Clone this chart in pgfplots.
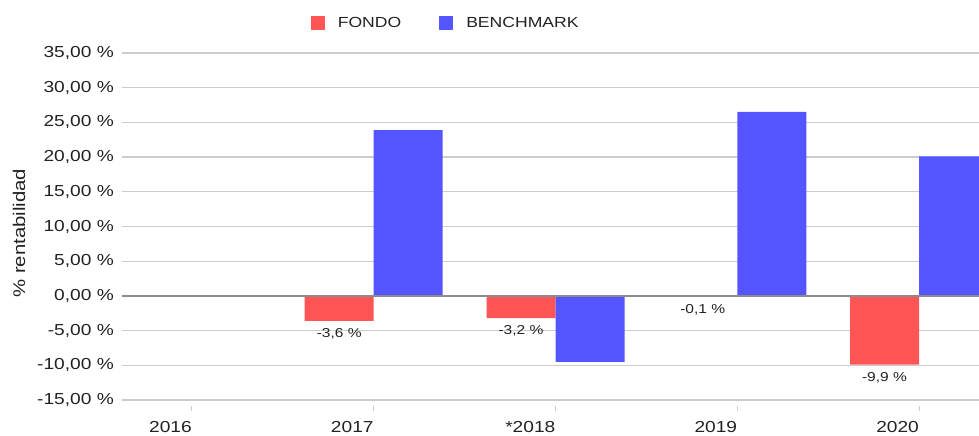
\documentclass[border=0pt]{standalone}
\usepackage{fontspec}
\setmainfont{Liberation Sans}[FakeStretch=1.2]
\usepackage{pgfplots}
\pgfplotsset{compat=1.18}
\definecolor{fondo}{RGB}{255,85,85}
\definecolor{bench}{RGB}{85,85,255}
\definecolor{txt}{RGB}{34,34,34}
\definecolor{gridc}{RGB}{204,204,204}
\definecolor{zeroc}{RGB}{140,140,140}
\begin{document}
\begin{tikzpicture}
\useasboundingbox (-122bp,-36bp) rectangle (857bp,400bp);
\begin{axis}[
  at={(0,0)}, anchor=south west,
  scale only axis, width=857bp, height=347bp,
  xmin=-0.385, xmax=4.33, ymin=-15, ymax=35,
  ybar=0pt, bar width=69bp,
  axis line style={draw=none},
  /pgf/number format/assume math mode=true,
  xtick={0,...,4}, xticklabels={2016,2017,*2018,2019,2020},
  ytick={-15,-10,...,35},
  yticklabel={\pgfmathprintnumber[fixed,fixed zerofill,precision=2,use comma]{\tick}~\%},
  ymajorgrids, grid style={draw=gridc, line width=1.3bp},
  tick align=outside, major tick length=5bp,
  xtick pos=lower,
  xtick style={draw=gridc, line width=1bp, yshift=-6bp},
  ytick style={draw=none},
  xticklabel style={anchor=north east, inner xsep=0pt, inner ysep=0pt, yshift=-16bp, text=txt, font=\fontsize{16}{19}\selectfont},
  yticklabel style={anchor=east, inner xsep=0pt, xshift=-3bp, text=txt, font=\fontsize{16}{19}\selectfont},
  ylabel={\% rentabilidad},
  ylabel style={at={(axis description cs:-0.1202,0.481)}, anchor=center, text=txt, font=\fontsize{17}{20}\selectfont},
  legend style={at={(axis description cs:0.3777,1.0865)}, anchor=center, draw=none, fill=none,
    text=txt, font=\fontsize{14.7}{17}\selectfont, legend columns=2,
    /tikz/every odd column/.append style={column sep=11bp},
    /tikz/every even column/.append style={column sep=36bp}},
  legend cell align=left,
]
\addplot[fill=fondo, draw=none, point meta=explicit symbolic,
  nodes near coords={\pgfplotspointmeta~\%},
  nodes near coords style={anchor=north, yshift=-4bp, text=txt, font=\fontsize{13}{15}\selectfont},
  legend image code/.code={\fill[fondo] (0bp,-7bp) rectangle (14bp,7bp);}]
  table[x=x, y=y, meta=lab] {
x y lab
1 -3.6 -3,6
2 -3.2 -3,2
3 -0.1 -0,1
4 -9.9 -9,9
};
\addlegendentry{FONDO}
\addplot[fill=bench, draw=none,
  legend image code/.code={\fill[bench] (0bp,-7bp) rectangle (14bp,7bp);}]
  table[x=x, y=y] {
x y
1 23.9
2 -9.5
3 26.5
4 20.1
};
\addlegendentry{BENCHMARK}
\draw[zeroc, line width=1.8bp] (axis cs:-0.385,0) -- (axis cs:4.33,0);
\end{axis}
\end{tikzpicture}
\end{document}
